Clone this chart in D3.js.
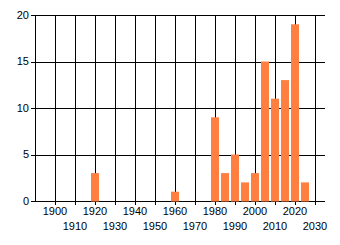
<!DOCTYPE html>
<html>
<head>
<meta charset="utf-8">
<script src="https://cdn.jsdelivr.net/npm/d3@7"></script>
<style>
  body { margin: 0; background: #fff; }
  svg { display: block; }
  text { font-family: "Liberation Sans", Arial, sans-serif; font-size: 11px; fill: #000; }
</style>
</head>
<body>
<div id="chart"></div>
<script>
// bars (year bins) and counts
const years = [1920, 1960, 1980, 1985, 1990, 1995, 2000, 2005, 2010, 2015, 2020, 2025];
const counts = [3, 1, 9, 3, 5, 2, 3, 15, 11, 13, 19, 2];
const xTicks = [1900, 1910, 1920, 1930, 1940, 1950, 1960, 1970, 1980, 1990, 2000, 2010, 2020, 2030];
const yTicks = [0, 5, 10, 15, 20];

const width = 340, height = 245;
const margin = { top: 15, right: 15, bottom: 44, left: 35 };

const svg = d3.select('#chart').append('svg')
    .attr('width', width)
    .attr('height', height);

const x = d3.scaleLinear()
    .domain([1890, 2035])
    .range([margin.left, width - margin.right]);

const y = d3.scaleLinear()
    .domain([0, 20])
    .range([height - margin.bottom, margin.top]);

const crisp = v => Math.round(v) + 0.5;

// grid lines
const grid = svg.append('g').attr('stroke', '#000').attr('stroke-width', 1);
grid.selectAll('.h')
    .data(yTicks)
    .enter().append('line')
    .attr('x1', x(1890) - 4).attr('x2', x(2035))
    .attr('y1', d => crisp(y(d))).attr('y2', d => crisp(y(d)));
grid.selectAll('.v')
    .data(xTicks)
    .enter().append('line')
    .attr('x1', d => crisp(x(d))).attr('x2', d => crisp(x(d)))
    .attr('y1', y(20)).attr('y2', y(0) + 4);
// left axis line
grid.append('line')
    .attr('x1', crisp(x(1890))).attr('x2', crisp(x(1890)))
    .attr('y1', y(20)).attr('y2', y(0) + 1);

// bars
const data = years.map((yr, i) => ({ year: yr, count: counts[i] }));
svg.append('g').selectAll('rect')
    .data(data)
    .enter().append('rect')
    .attr('x', d => x(d.year - 2))
    .attr('width', d => x(d.year + 2) - x(d.year - 2))
    .attr('y', d => y(d.count))
    .attr('height', d => y(0) - y(d.count) + 0.5)
    .attr('fill', '#ff7f41');

// y labels
svg.append('g').selectAll('text')
    .data(yTicks)
    .enter().append('text')
    .attr('x', x(1890) - 6)
    .attr('y', d => y(d))
    .attr('dy', '0.35em')
    .attr('text-anchor', 'end')
    .text(d => d);

// x labels, staggered
svg.append('g').selectAll('text')
    .data(xTicks)
    .enter().append('text')
    .attr('x', d => x(d))
    .attr('y', (d, i) => i % 2 === 0 ? y(0) + 13.5 : y(0) + 29)
    .attr('text-anchor', 'middle')
    .text(d => d);
</script>
</body>
</html>
